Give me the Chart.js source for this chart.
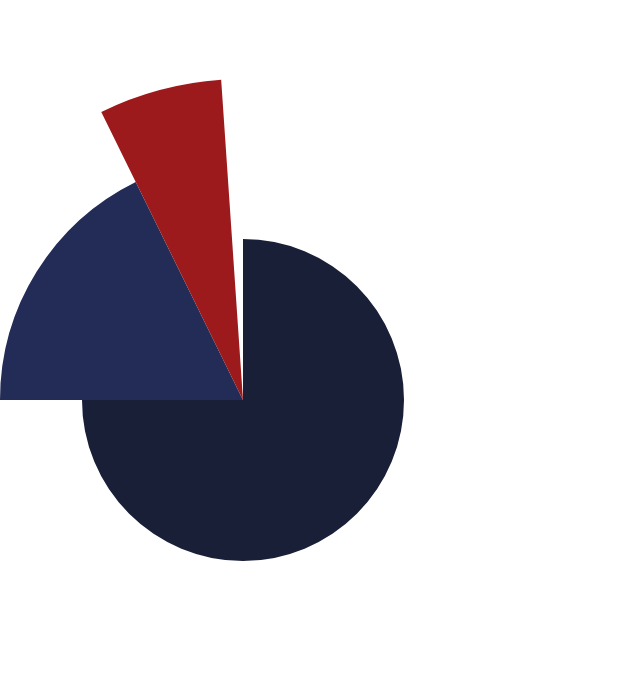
<!DOCTYPE html>
<html>
<head>
<meta charset="utf-8">
<script src="https://cdn.jsdelivr.net/npm/chart.js@4/dist/chart.umd.min.js"></script>
<style>
  html, body { margin: 0; padding: 0; background: #fff; }
  #wrap { width: 619px; height: 683px; }
</style>
</head>
<body>
<div id="wrap"><canvas id="chart"></canvas></div>
<script>
// slice labels, radial values and sweep angles (degrees)
const labels = ['A', 'B', 'C', 'D'];
const values = [161, 243, 321, 0];
const angles = [270, 63.8, 22.3, 3.9];
const colors = ['#1a1f38', '#232c57', '#9d1a1c', '#ffffff'];

new Chart(document.getElementById('chart'), {
  type: 'polarArea',
  data: {
    labels: labels,
    datasets: [{
      data: values,
      backgroundColor: colors,
      borderWidth: 0,
      angle: (ctx) => angles[ctx.dataIndex],
      clip: false
    }]
  },
  options: {
    responsive: true,
    maintainAspectRatio: false,
    animation: false,
    layout: { padding: { left: 0, right: 133, top: 157, bottom: 40 } },
    scales: {
      r: {
        display: false,
        min: 0,
        max: 243
      }
    },
    plugins: {
      legend: { display: false },
      tooltip: { enabled: false }
    }
  }
});
</script>
</body>
</html>
